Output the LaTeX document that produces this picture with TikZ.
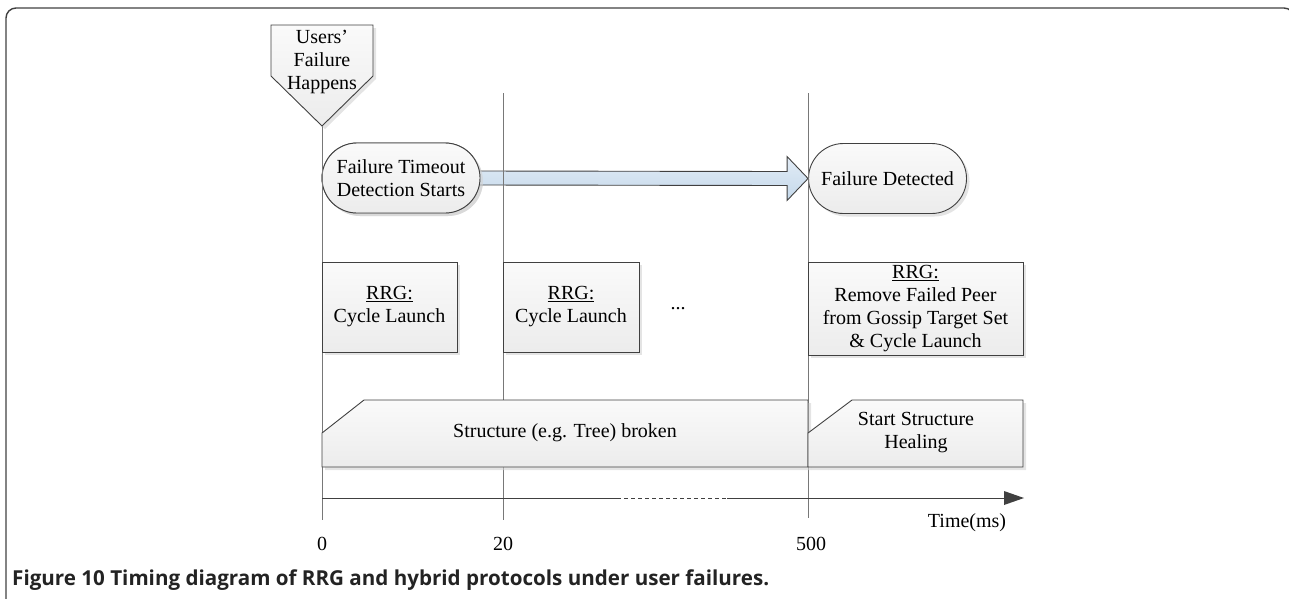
\documentclass[tikz,border=0pt]{standalone}
\usepackage{fontspec}
\setmainfont{Liberation Serif}
\newfontfamily\capfont{Open Sans}
\usetikzlibrary{calc,shadows}
\definecolor{edge}{RGB}{64,64,64}
\definecolor{tline}{RGB}{120,120,120}
\definecolor{boxtop}{RGB}{250,250,250}
\definecolor{boxbot}{RGB}{236,236,236}
\definecolor{arrtop}{RGB}{226,236,246}
\definecolor{arrbot}{RGB}{196,216,234}
\definecolor{capgray}{RGB}{35,35,35}
\tikzset{
  lbl/.style={font=\fontsize{20}{23}\selectfont, align=center, inner sep=0pt},
  shade box/.style={draw=edge, line width=0.9pt, top color=boxtop, bottom color=boxbot,
    drop shadow={shadow xshift=3pt, shadow yshift=-3pt, fill=gray!35, opacity=0.6}},
  evbox/.style={shade box, lbl, minimum width=#1, minimum height=90pt},
  terminal/.style={shade box, lbl, rounded corners=35pt, minimum width=158pt, minimum height=70pt},
  timeline/.style={draw=tline, line width=0.9pt},
  ticklbl/.style={font=\fontsize{20}{23}\selectfont, inner sep=0pt}
}
\begin{document}
\begin{tikzpicture}[x=1pt, y=-1pt]
\useasboundingbox (0,0) rectangle (1289,598);
% outer frame, open at the bottom and right edges
\begin{scope}
\clip (0,0) rectangle (1289,598);
\draw[edge, line width=1.4pt, rounded corners=10pt] (6,8) rectangle (1294,640);
\end{scope}

% time marks
\coordinate (t0top) at (322,126);
\coordinate (t0bot) at (322,520);
\coordinate (t1top) at (503,93);
\coordinate (t1bot) at (503,520);
\coordinate (t2top) at (808,93);
\coordinate (t2bot) at (808,518);

% failure events
\node[terminal] (start) at (401,178) {Failure Timeout\\Detection Starts};
\node[terminal] (detect) at (887.5,178.5) {Failure Detected};

% timeout block arrow
\draw[edge, line width=0.9pt, top color=arrtop, bottom color=arrbot]
  ($(start.east)+(-1,-7)$) -- ($(detect.west)+(-21,-7)$) -- ($(detect.west)+(-21,-22)$)
  -- (detect.west) -- ($(detect.west)+(-21,22)$) -- ($(detect.west)+(-21,7)$)
  -- ($(start.east)+(-1,7)$);
\node[terminal] at (401,178) {Failure Timeout\\Detection Starts};

% vertical time lines
\draw[timeline] (t0top) -- (t0bot);
\draw[timeline] (t1top) -- (t1bot);
\draw[timeline] (t2top) -- (t2bot);

% user failure marker
\draw[shade box] (271,25) -- (373,25) -- (373,76) -- (t0top) -- (271,76) -- cycle;
\node[lbl] (users) at (322,62) {Users’\\Failure\\Happens};

% RRG cycles
\node[evbox=135pt] (rrg1) at (389.5,307) {\underline{RRG:}\\Cycle Launch};
\node[evbox=136pt] (rrg2) at (571,307) {\underline{RRG:}\\Cycle Launch};
\node[lbl] (dots) at (678,309) {...};
\node[evbox=215pt, minimum height=93pt] (rrg3) at (915.5,308.5)
  {\underline{RRG:}\\Remove Failed Peer\\from Gossip Target Set\\\& Cycle Launch};

% structure state bars
\draw[shade box] (322,433) -- (364,400) -- (808,400) -- (808,467) -- (322,467) -- cycle;
\node[lbl] (broken) at (565,433) {Structure (e.g. Tree) broken};
\draw[shade box] (808,433) -- (852,400) -- (1023,400) -- (1023,467) -- (808,467) -- cycle;
\node[lbl] (heal) at (916,433) {Start Structure\\Healing};

% time axis
\coordinate (ax0) at (322,498);
\coordinate (axa) at (617,498);
\coordinate (axb) at (727,498);
\coordinate (axend) at (1004,498);
\coordinate (axtip) at (1024,498);
\draw[edge, line width=0.9pt] (ax0) -- (axa);
\draw[edge, line width=0.9pt, dash pattern=on 4pt off 3pt] (axa) -- (axb);
\draw[edge, line width=0.9pt] (axb) -- (axend);
\fill[edge] ($(axend)+(0,-7)$) -- (axtip) -- ($(axend)+(0,7)$) -- cycle;

\node[ticklbl] (l0) at (322,544) {0};
\node[ticklbl] (l20) at (503,544) {20};
\node[ticklbl] (l500) at (811,544) {500};
\node[ticklbl] (unit) at (967,523) {Time(ms)};

% caption
\node[anchor=west, inner sep=0pt, text=capgray, font=\capfont\bfseries\fontsize{20.6}{24}\selectfont] (cap) at (12,580)
  {Figure 10 Timing diagram of RRG and hybrid protocols under user failures.};
\end{tikzpicture}
\end{document}
